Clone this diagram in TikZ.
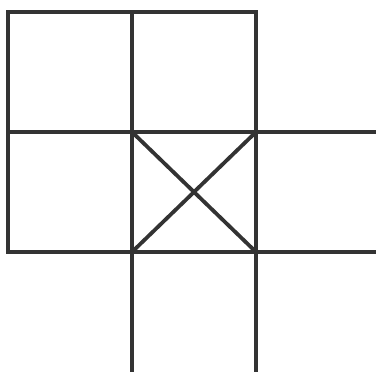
\documentclass[tikz,border=0pt]{standalone}
\definecolor{gridgray}{HTML}{333333}
\begin{document}
\begin{tikzpicture}[
  x=1pt, y=-1pt,
  cell/.style={draw=gridgray, line width=3.8pt}
]
  \useasboundingbox (0,0) rectangle (376,372);
  \def\w{124}
  \def\h{120}
  % squares of the net
  \foreach \i/\j in {0/0,1/0,0/1,1/1,2/1}
    \draw[cell] ({8+\i*\w},{12+\j*\h}) rectangle +(\w,\h);
  % bottom square, cut by the page edge
  \draw[cell] (132,252) rectangle (256,374.5);
  % cross in the middle square
  \coordinate (tl) at (132,132);
  \coordinate (br) at (256,252);
  \coordinate (tr) at (256,132);
  \coordinate (bl) at (132,252);
  \draw[cell] (tl) -- (br) (tr) -- (bl);
\end{tikzpicture}
\end{document}
